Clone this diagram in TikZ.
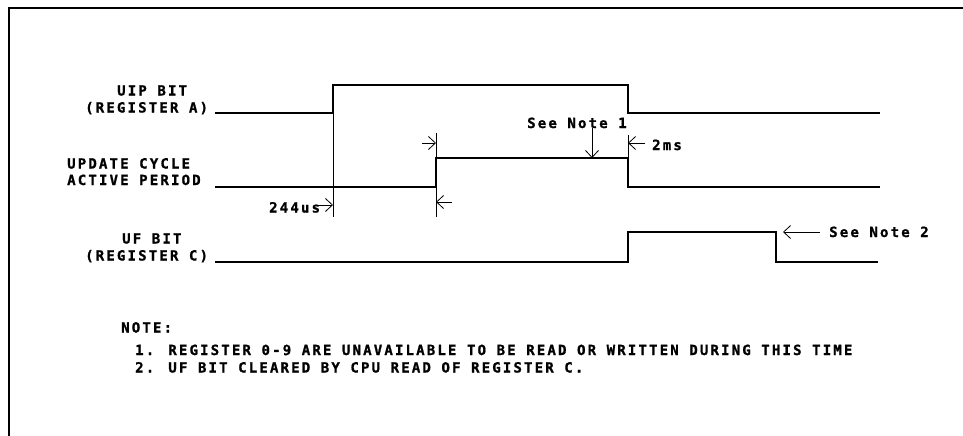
\documentclass[tikz,border=0pt]{standalone}
\usepackage{fontspec}
\usetikzlibrary{arrows.meta}
\newfontfamily\plotfont[LetterSpace=15.5,FakeBold=1.2]{DejaVu Sans Mono Bold}
\begin{document}
\begin{tikzpicture}[x=1pt,y=-1pt,
  sig/.style={line width=2pt, line join=miter},
  thinline/.style={line width=0.8pt},
  arr/.style={line width=0.8pt, -{Straight Barb[length=7pt,width=13pt,line width=0.8pt]}},
  lbl/.style={font=\plotfont\fontsize{14}{14}\selectfont, inner sep=0pt, anchor=base west}]
\useasboundingbox (0,0) rectangle (963,436);
% frame
\coordinate (fbl) at (9,436);
\coordinate (ftl) at (9,8);
\coordinate (ftr) at (963,8);
\draw[line width=1.3pt] (fbl) -- (ftl) -- (ftr);
% signals
\draw[sig] (215,113) -- (333,113) -- (333,85) -- (628,85) -- (628,113) -- (880,113);
\draw[sig] (215,187) -- (436,187) -- (436,158) -- (628,158) -- (628,187) -- (880,187);
\draw[sig] (215,262) -- (628,262) -- (628,232) -- (776,232) -- (776,262) -- (878,262);
% extension lines
\coordinate (e1a) at (333,113); \coordinate (e1b) at (333,217);
\coordinate (e2a) at (436,133); \coordinate (e2b) at (436,217);
\coordinate (e3a) at (628,135); \coordinate (e3b) at (628,158);
\draw[thinline] (e1a) -- (e1b);
\draw[thinline] (e2a) -- (e2b);
\draw[thinline] (e3a) -- (e3b);
% labels
\node[lbl] (uip1) at (117,95.5) {UIP BIT};
\node[lbl] (uip2) at (85,112.5) {(REGISTER A)};
\node[lbl] (upd1) at (67,168.5) {UPDATE CYCLE};
\node[lbl] (upd2) at (67,185) {ACTIVE PERIOD};
\node[lbl] (uf1) at (122,243.5) {UF BIT};
\node[lbl] (uf2) at (85,260.5) {(REGISTER C)};
\node[lbl] (t244) at (269,212.5) {244us};
\node[lbl] (sn1) at (527,128) {See Note 1};
\node[lbl] (t2ms) at (652,150) {2ms};
\node[lbl] (sn2) at (829,237) {See Note 2};
\node[lbl] (note) at (121,332.5) {NOTE:};
\node[lbl] (n1) at (135,355) {1. REGISTER 0-9 ARE UNAVAILABLE TO BE READ OR WRITTEN DURING THIS TIME};
\node[lbl] (n2) at (135,372.5) {2. UF BIT CLEARED BY CPU READ OF REGISTER C.};
% arrows
\coordinate (a1s) at (318,205); \coordinate (a1e) at (333,205);
\coordinate (a2s) at (422,143); \coordinate (a2e) at (436,143);
\coordinate (a3s) at (452,202); \coordinate (a3e) at (436,202);
\coordinate (a4s) at (592,128); \coordinate (a4e) at (592,158);
\coordinate (a5s) at (645,143); \coordinate (a5e) at (628,143);
\coordinate (a6s) at (820,232); \coordinate (a6e) at (783,232);
\draw[arr] (a1s) -- (a1e);
\draw[arr] (a2s) -- (a2e);
\draw[arr] (a3s) -- (a3e);
\draw[arr] (a4s) -- (a4e);
\draw[arr] (a5s) -- (a5e);
\draw[arr] (a6s) -- (a6e);
\end{tikzpicture}
\end{document}
